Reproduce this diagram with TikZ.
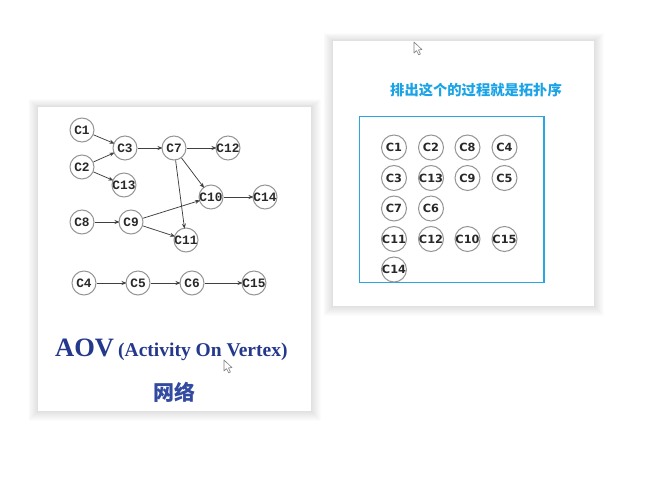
\documentclass[tikz,border=0pt]{standalone}
\usepackage{fontspec}
\setmainfont{Liberation Serif}
\newfontfamily\cjkfont{Noto Sans CJK SC}
\newfontfamily\monofnt{Liberation Mono}
\newfontfamily\sansfnt{DejaVu Sans}
\usetikzlibrary{arrows.meta}
\definecolor{navyaov}{RGB}{36,56,140}
\definecolor{netblue}{RGB}{50,74,160}
\definecolor{titleblue}{RGB}{26,163,230}
\definecolor{boxblue}{RGB}{40,166,225}
\definecolor{ringgray}{RGB}{150,150,150}
\definecolor{labelgray}{RGB}{40,40,40}
\tikzset{
  vtx/.style={circle, draw=ringgray, line width=1pt, fill=white, minimum size=24pt, inner sep=-6pt,
    font=\monofnt\bfseries\fontsize{12.8}{12.8}\selectfont, text=labelgray},
  gvtx/.style={circle, draw=ringgray, line width=1pt, fill=white, minimum size=25pt, inner sep=-6pt,
    font=\sansfnt\bfseries\fontsize{11.3}{11.3}\selectfont, text=labelgray},
  edge/.style={-{Stealth[length=5pt,width=4pt]}, line width=0.75pt, draw=black!75, shorten >=-1pt},
  panel/.style={fill=white},
  cursorshape/.style={fill=white, draw=gray, line width=0.6pt, line join=round}
}
\begin{document}
\begin{tikzpicture}[x=1pt,y=-1pt]
\useasboundingbox (0,0) rectangle (651,486);
\fill[white] (0,0) rectangle (651,486);
% soft shadows
\foreach \i in {1,...,10}{
  \fill[black, opacity=0.012] (37.5-\i*0.9,107-\i*0.8) rectangle (311+\i,411+\i);
  \fill[black, opacity=0.012] (332.5-\i*0.9,41-\i*0.8) rectangle (593.5+\i,306+\i);
}
\fill[panel] (37.5,107) rectangle (311,411);
\fill[panel] (332.5,41) rectangle (593.5,306);

% left graph
\node[vtx] (c1) at (82,130) {C1};
\node[vtx] (c3) at (125,148) {C3};
\node[vtx] (c7) at (174,148) {C7};
\node[vtx] (c12) at (228,148) {C12};
\node[vtx] (c2) at (82,167) {C2};
\node[vtx] (c13) at (124,185) {C13};
\node[vtx] (c10) at (211,197) {C10};
\node[vtx] (c14) at (265,197) {C14};
\node[vtx] (c8) at (82,222) {C8};
\node[vtx] (c9) at (131,222) {C9};
\node[vtx] (c11) at (186,240) {C11};
\node[vtx] (c4) at (84,283) {C4};
\node[vtx] (c5) at (138,283) {C5};
\node[vtx] (c6) at (192,283) {C6};
\node[vtx] (c15) at (254,283) {C15};

\draw[edge] (c1) -- (c3);
\draw[edge] (c2) -- (c3);
\draw[edge] (c2) -- (c13);
\draw[edge] (c3) -- (c7);
\draw[edge] (c7) -- (c12);
\draw[edge] (c7) -- (c10);
\draw[edge] (c7) -- (c11);
\draw[edge] (c10) -- (c14);
\draw[edge] (c8) -- (c9);
\draw[edge] (c9) -- (c10);
\draw[edge] (c9) -- (c11);
\draw[edge] (c4) -- (c5);
\draw[edge] (c5) -- (c6);
\draw[edge] (c6) -- (c15);

% left texts
\node[anchor=base west, inner sep=0, text=navyaov, font=\bfseries\fontsize{26.5}{26.5}\selectfont] (aov) at (55,356.5) {AOV};
\node[anchor=base west, inner sep=0, text=navyaov, font=\bfseries\fontsize{19.5}{19.5}\selectfont] (aovlong) at (118,356.5) {(Activity On Vertex)};
\node[inner sep=0, text=netblue, font=\cjkfont\bfseries\fontsize{21}{21}\selectfont] (net) at (174.5,392) {网络};

% right panel
\node[inner sep=0, text=titleblue, font=\cjkfont\bfseries\fontsize{14.3}{14.3}\selectfont] (title) at (476,90) {排出这个的过程就是拓扑序};
\draw[boxblue, line width=1.6pt] (359.5,116.5) rectangle (544,282.5);

\node[gvtx] (g1) at (394,147.5) {C1};
\node[gvtx] (g2) at (431,147.5) {C2};
\node[gvtx] (g8) at (467.5,147.5) {C8};
\node[gvtx] (g4) at (504.5,147.5) {C4};
\node[gvtx] (g3) at (394,178) {C3};
\node[gvtx] (g13) at (431,178) {C13};
\node[gvtx] (g9) at (467.5,178) {C9};
\node[gvtx] (g5) at (504.5,178) {C5};
\node[gvtx] (g7) at (394,208.5) {C7};
\node[gvtx] (g6) at (431,208.5) {C6};
\node[gvtx] (g11) at (394,239) {C11};
\node[gvtx] (g12) at (431,239) {C12};
\node[gvtx] (g10) at (467.5,239) {C10};
\node[gvtx] (g15) at (504.5,239) {C15};
\node[gvtx] (g14) at (394,269.5) {C14};

% cursors
\draw[cursorshape] (414,42) -- (414,53) -- (416.6,50.6) -- (418.6,54.8) -- (420.4,54) -- (418.5,49.9) -- (422,49.6) -- cycle;
\draw[cursorshape] (224,360) -- (224,371) -- (226.6,368.6) -- (228.6,372.8) -- (230.4,372) -- (228.5,367.9) -- (232,367.6) -- cycle;
\end{tikzpicture}
\end{document}
